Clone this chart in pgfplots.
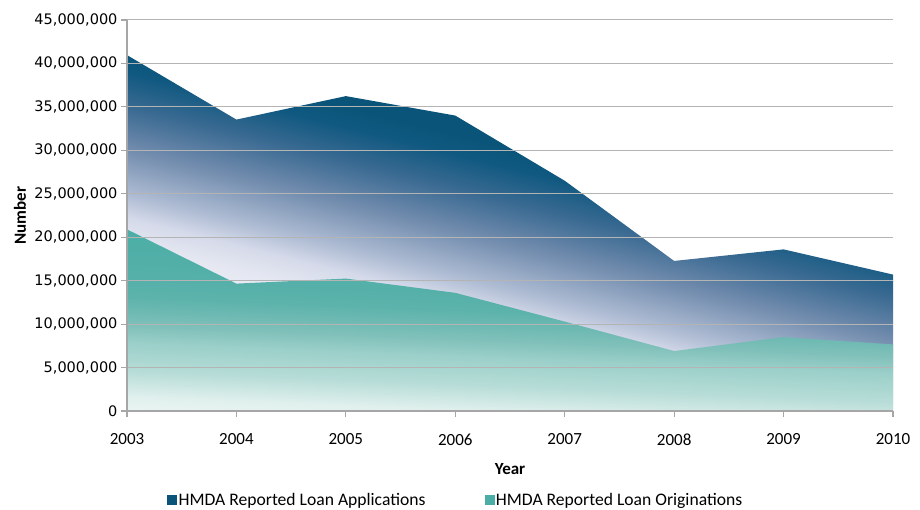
\documentclass[border=0pt]{standalone}
\usepackage{pgfplots}
\pgfplotsset{compat=1.18}
\usepackage{fontspec}
\setmainfont{Carlito}
\newfontfamily\dejavu{DejaVu Sans}
\definecolor{aA}{HTML}{EEF0F6}
\definecolor{aB}{HTML}{E4E7F1}
\definecolor{aC}{HTML}{D5DAEA}
\definecolor{aD}{HTML}{B0BDD4}
\definecolor{aE}{HTML}{6F8AAC}
\definecolor{aF}{HTML}{3A6A92}
\definecolor{aG}{HTML}{0F5880}
\definecolor{appD}{HTML}{0B5479}
\definecolor{tA}{HTML}{F0F8F6}
\definecolor{tB}{HTML}{EAF5F3}
\definecolor{tC}{HTML}{E0F0ED}
\definecolor{tE}{HTML}{B8DDD8}
\definecolor{tF}{HTML}{ABD7D1}
\definecolor{tJ}{HTML}{9BCFC9}
\definecolor{tG}{HTML}{80C0BA}
\definecolor{tH}{HTML}{6CB9B2}
\definecolor{tI}{HTML}{5CB3AB}
\definecolor{tK}{HTML}{55B0A9}
\definecolor{tD}{HTML}{4AAEA6}
\definecolor{axgray}{HTML}{A6A6A6}
\definecolor{gridgray}{HTML}{B4B4B4}
\pgfdeclareverticalshading{apps}{100bp}{color(0bp)=(aA); color(35bp)=(aA); color(38.5bp)=(aB); color(41.1bp)=(aC); color(43.6bp)=(aD); color(49bp)=(aE); color(53.4bp)=(aF); color(57.4bp)=(aG); color(59.4bp)=(appD); color(100bp)=(appD)}
\pgfdeclareverticalshading{origs}{100bp}{color(0bp)=(tA); color(23.7bp)=(tB); color(27.5bp)=(tC); color(33.6bp)=(tE); color(36.7bp)=(tF); color(40.7bp)=(tJ); color(45bp)=(tG); color(48.7bp)=(tH); color(52.1bp)=(tI); color(56.6bp)=(tK); color(70.2bp)=(tD); color(100bp)=(tD)}
\begin{document}
\begin{tikzpicture}
\begin{axis}[name=ax, scale only axis, width=766pt, height=391pt,
  xmin=2003, xmax=2010, ymin=0, ymax=45000000,
  axis on top,
  axis x line*=bottom, axis y line*=left,
  axis line style={draw=axgray, line width=1.5pt, -},
  tick align=outside, major tick length=6pt,
  tick style={draw=axgray, line width=1.2pt},
  xtick={2003,2004,2005,2006,2007,2008,2009,2010},
  xticklabels={2003,2004,2005,2006,2007,2008,2009,2010},
  ytick={0,5000000,10000000,15000000,20000000,25000000,30000000,35000000,40000000,45000000},
  yticklabels={0,{5,000,000},{10,000,000},{15,000,000},{20,000,000},{25,000,000},{30,000,000},{35,000,000},{40,000,000},{45,000,000}},
  scaled y ticks=false,
  ymajorgrids, grid style={draw=gridgray, line width=1pt},
  xticklabel style={font=\fontsize{17}{20}\selectfont, yshift=-13pt},
  yticklabel style={font=\dejavu\fontsize{14.5}{17}\selectfont},
  xlabel={Year}, ylabel={Number},
  xlabel style={at={(axis description cs:0.5,-0.1483)}, anchor=center, font=\bfseries\fontsize{17}{20}\selectfont},
  ylabel style={at={(axis description cs:-0.1397,0.5)}, anchor=center, font=\bfseries\fontsize{17}{20}\selectfont},
  legend columns=2,
  legend style={at={(axis description cs:0.0522,-0.2276)}, anchor=west, draw=none, fill=none, inner sep=0pt,
    font=\fontsize{17.6}{20}\selectfont, /tikz/every even column/.append style={column sep=57pt}},
]
\addplot[draw=none, shade, shading=apps, shading angle=-14, forget plot] coordinates {
(2003,40960000) (2004,33540000) (2005,36240000) (2006,34000000) (2007,26500000) (2008,17270000) (2009,18600000) (2010,15700000)} \closedcycle;
\addplot[draw=none, shade, shading=origs, shading angle=-2.3, forget plot] coordinates {
(2003,20900000) (2004,14660000) (2005,15240000) (2006,13600000) (2007,10290000) (2008,6900000) (2009,8500000) (2010,7660000)} \closedcycle;
\addlegendimage{legend image code/.code={\fill[appD] (0pt,-4.5pt) rectangle (9pt,4.5pt);}}
\addlegendentry{HMDA Reported Loan Applications}
\addlegendimage{legend image code/.code={\fill[tD] (0pt,-4.5pt) rectangle (9pt,4.5pt);}}
\addlegendentry{HMDA Reported Loan Originations}
\end{axis}
\pgfresetboundingbox
\path ([xshift=-127pt,yshift=-99pt]ax.south west) rectangle ([xshift=27pt,yshift=20pt]ax.north east);
\end{tikzpicture}
\end{document}
